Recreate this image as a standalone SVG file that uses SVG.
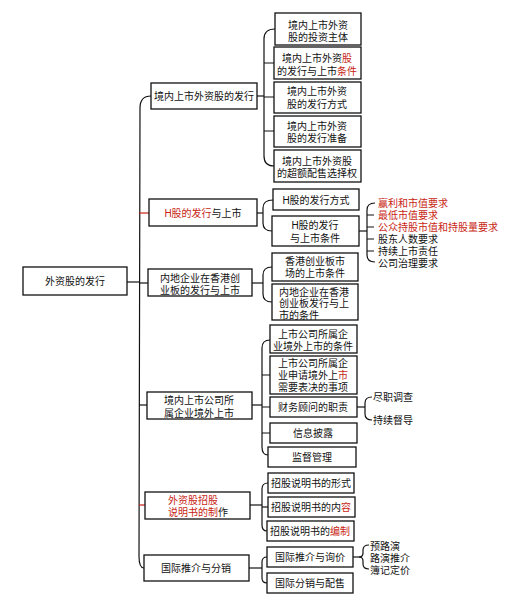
<svg xmlns="http://www.w3.org/2000/svg" width="519" height="602" viewBox="0 0 519 602">
<style>
.b{fill:#fff;stroke:#111;stroke-width:1.3}
.t{font-family:"Liberation Sans","Noto Sans CJK SC","Noto Sans",sans-serif;font-size:10px;fill:#111;text-anchor:middle}
.l{text-anchor:start}
.r{fill:#c81e14}
.c{fill:none;stroke:#111;stroke-width:1.2}
.cr{fill:none;stroke:#c81e14;stroke-width:1.2}
</style>
<rect width="519" height="602" fill="#fff"/>
<g id="connectors">
<path class="c" d="M127,282H139"/>
<path class="c" d="M151,96Q140,96 140,108L139,556Q139,568 144,568"/>
<path class="cr" d="M139,213H149"/>
<path class="c" d="M139,283H148"/>
<path class="c" d="M139,405H147"/>
<path class="cr" d="M139,505H145"/>
<path class="c" d="M257,96H264"/>
<path class="c" d="M275,29Q264,29 264,39L264,156Q264,166 274,166"/>
<path class="c" d="M264,63H274M264,97H274M264,131H274"/>
<path class="c" d="M257,213H263"/>
<path class="c" d="M273,200Q263,200 263,208L263,223Q263,231 272,231"/>
<path class="c" d="M359,231H367"/>
<path class="c" d="M375,203Q367,203 367,210L367,255Q367,262 375,262"/>
<path class="c" d="M367,215H374M367,227H374M367,239H374M367,251H374"/>
<path class="c" d="M252,283H263"/>
<path class="c" d="M272,267Q263,267 263,275L263,294Q263,302 272,302"/>
<path class="c" d="M252,405H262"/>
<path class="c" d="M270,340Q262,340 262,348L262,447Q262,455 268,455"/>
<path class="c" d="M262,375H270M262,407H270M262,433H270"/>
<path class="c" d="M357,407H365"/>
<path class="c" d="M372,397Q365,397 365,403L365,414Q365,420 372,420"/>
<path class="c" d="M250,505H262"/>
<path class="c" d="M268,483Q262,483 262,489L262,525Q262,531 267,531"/>
<path class="c" d="M262,507H268"/>
<path class="c" d="M249,568H262"/>
<path class="c" d="M267,557Q262,557 262,562L262,578Q262,583 267,583"/>
<path class="c" d="M353,557H362"/>
<path class="c" d="M369,545Q363,545 363,550L363,553Q363,557 359,557Q363,557 363,561L363,564Q363,569 369,569"/>
</g>
<g id="root"><rect class="b" x="23" y="267" width="104" height="28"/><text class="t" x="75" y="285">外资股的发行</text></g>
<g id="n1"><rect class="b" x="151" y="83" width="106" height="26"/><text class="t" x="204" y="100">境内上市外资股的发行</text></g>
<g id="n2"><rect class="b" x="149" y="199" width="108" height="27"/><text class="t" x="203" y="217"><tspan class="r">H股的发行</tspan>与上市</text></g>
<g id="n3"><rect class="b" x="148" y="269" width="104" height="27"/><text class="t" x="200" y="282">内地企业在香港创</text><text class="t" x="200" y="294">业板的发行与上市</text></g>
<g id="n4"><rect class="b" x="147" y="392" width="105" height="27"/><text class="t" x="199" y="404">境内上市公司所</text><text class="t" x="199" y="416.5">属企业境外上市</text></g>
<g id="n5"><rect class="b" x="145" y="492" width="105" height="27"/><text class="t l r" x="168" y="504">外资股招股</text><text class="t l" x="168" y="516"><tspan class="r">说明书的制</tspan>作</text></g>
<g id="n6"><rect class="b" x="144" y="555" width="105" height="26"/><text class="t" x="196" y="572">国际推介与分销</text></g>
<g id="n1a"><rect class="b" x="275" y="13" width="86" height="32"/><text class="t" x="318" y="28.5">境内上市外资</text><text class="t" x="318" y="41">股的投资主体</text></g>
<g id="n1b"><rect class="b" x="274" y="47" width="87" height="32"/><text class="t" x="317" y="62">境内上市外资<tspan class="r">股</tspan></text><text class="t" x="317" y="74.5">的发行与上市<tspan class="r">条件</tspan></text></g>
<g id="n1c"><rect class="b" x="274" y="82" width="87" height="31"/><text class="t" x="317" y="95">境内上市外资</text><text class="t" x="317" y="108">股的发行方式</text></g>
<g id="n1d"><rect class="b" x="274" y="116" width="87" height="31"/><text class="t" x="317" y="129.5">境内上市外资</text><text class="t" x="317" y="142">股的发行准备</text></g>
<g id="n1e"><rect class="b" x="274" y="150" width="87" height="32"/><text class="t" x="317" y="164.5">境内上市外资股</text><text class="t" x="317" y="177">的超额配售选择权</text></g>
<g id="n2a"><rect class="b" x="273" y="189" width="86" height="21"/><text class="t" x="316" y="204">H股的发行方式</text></g>
<g id="n2b"><rect class="b" x="272" y="216" width="87" height="30"/><text class="t" x="315" y="229">H股的发行</text><text class="t" x="315" y="241.5">与上市条件</text></g>
<g id="n2list"><text class="t l r" x="378" y="207">赢利和市值要求</text><text class="t l r" x="378" y="219">最低市值要求</text><text class="t l r" x="378" y="231">公众持股市值和持股量要求</text><text class="t l" x="378" y="243">股东人数要求</text><text class="t l" x="378" y="255">持续上市责任</text><text class="t l" x="378" y="267">公司治理要求</text></g>
<g id="n3a"><rect class="b" x="272" y="253" width="86" height="28"/><text class="t" x="315" y="265">香港创业板市</text><text class="t" x="315" y="277">场的上市条件</text></g>
<g id="n3b"><rect class="b" x="272" y="284" width="86" height="36"/><text class="t l" x="279" y="295.5">内地企业在香港</text><text class="t l" x="279" y="307">创业板发行与上</text><text class="t l" x="279" y="318.5">市的条件</text></g>
<g id="n4a"><rect class="b" x="270" y="325" width="87" height="28"/><text class="t" x="313" y="337.5">上市公司所属企</text><text class="t" x="313" y="350">业境外上市的条件</text></g>
<g id="n4b"><rect class="b" x="270" y="356" width="87" height="38"/><text class="t" x="313" y="367">上市公司所属企</text><text class="t" x="313" y="379">业申请境外上<tspan class="r">市</tspan></text><text class="t" x="313" y="391">需要表决的事项</text></g>
<g id="n4c"><rect class="b" x="270" y="397" width="87" height="20"/><text class="t" x="313" y="411">财务顾问的职责</text></g>
<g id="n4clist"><text class="t l" x="373" y="401">尽职调查</text><text class="t l" x="373" y="424">持续督导</text></g>
<g id="n4d"><rect class="b" x="270" y="423" width="87" height="20"/><text class="t" x="313" y="437">信息披露</text></g>
<g id="n4e"><rect class="b" x="268" y="447" width="88" height="20"/><text class="t" x="312" y="461">监督管理</text></g>
<g id="n5a"><rect class="b" x="268" y="473" width="86" height="20"/><text class="t" x="311" y="487">招股说明书的形式</text></g>
<g id="n5b"><rect class="b" x="268" y="497" width="87" height="20"/><text class="t" x="311" y="511">招股说明书的内<tspan class="r">容</tspan></text></g>
<g id="n5c"><rect class="b" x="267" y="521" width="87" height="20"/><text class="t" x="310" y="535">招股说明书的<tspan class="r">编制</tspan></text></g>
<g id="n6a"><rect class="b" x="267" y="547" width="86" height="20"/><text class="t" x="310" y="561">国际推介与询价</text></g>
<g id="n6alist"><text class="t l" x="370" y="550">预路演</text><text class="t l" x="370" y="562">路演推介</text><text class="t l" x="370" y="574">簿记定价</text></g>
<g id="n6b"><rect class="b" x="267" y="573" width="86" height="20"/><text class="t" x="310" y="587">国际分销与配售</text></g>
</svg>
